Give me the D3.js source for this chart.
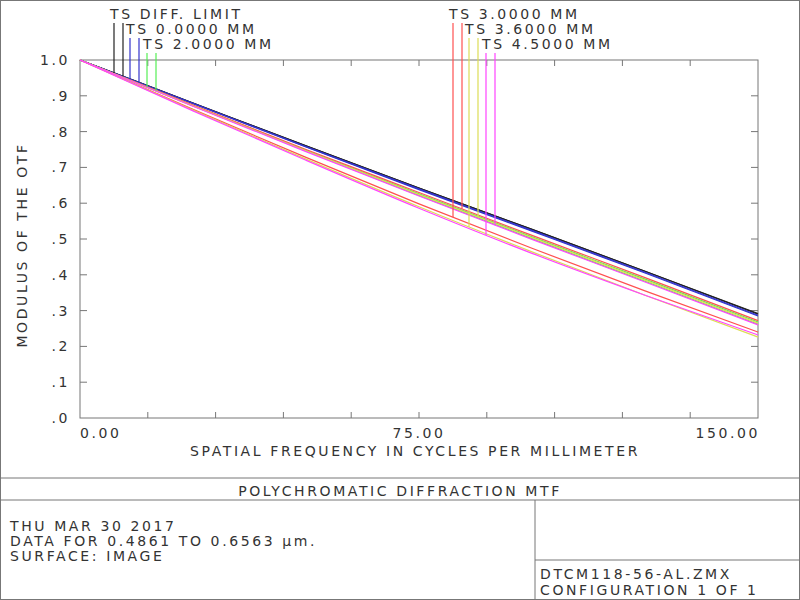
<!DOCTYPE html><html><head><meta charset="utf-8"><script src="https://cdn.jsdelivr.net/npm/d3@7"></script>
<style>body{margin:0;background:#fff}text{font-family:"DejaVu Sans",sans-serif;fill:#333;letter-spacing:2.6px}</style></head><body>
<svg id="c" width="800" height="600"></svg>
<script>
const freqs=[0,25,50,75,100,125,150];
const diffT=[1,0.88,0.76,0.642,0.527,0.41,0.29];
const diffS=[1,0.88,0.76,0.642,0.527,0.41,0.292];
const f0T=[1,0.878,0.757,0.638,0.522,0.405,0.285];
const f0S=[1,0.879,0.758,0.64,0.524,0.407,0.287];
const f2T=[1,0.873,0.748,0.626,0.506,0.388,0.268];
const f2S=[1,0.872,0.746,0.622,0.501,0.382,0.262];
const f3T=[1,0.862,0.728,0.598,0.474,0.355,0.24];
const f3S=[1,0.874,0.75,0.63,0.51,0.392,0.272];
const f36T=[1,0.86,0.723,0.59,0.464,0.343,0.226];
const f36S=[1,0.872,0.746,0.624,0.504,0.385,0.265];
const f45T=[1,0.858,0.72,0.586,0.46,0.343,0.232];
const f45S=[1,0.871,0.744,0.62,0.499,0.38,0.26];
const legendLabels=["TS DIFF. LIMIT","TS 0.0000 MM","TS 2.0000 MM","TS 3.0000 MM","TS 3.6000 MM","TS 4.5000 MM"];
const yTickLabels=["1.0",".9",".8",".7",".6",".5",".4",".3",".2",".1",".0"];
const xTickLabels=["0.00","75.00","150.00"];
const colors=["#222222","#3333cc","#55ee55","#ff5050","#dddd55","#ff44ff"];
const series=[[diffT,diffS],[f0T,f0S],[f2T,f2S],[f3T,f3S],[f36T,f36S],[f45T,f45S]];

const svg=d3.select("#c");
const L=80,R=758,T=60,B=418;
const x=d3.scaleLinear().domain([0,150]).range([L,R]);
const y=d3.scaleLinear().domain([0,1]).range([B,T]);
const g="#777";
svg.append("rect").attr("x",0.5).attr("y",0.5).attr("width",799).attr("height",599).attr("fill","none").attr("stroke",g);
svg.append("rect").attr("x",L).attr("y",T).attr("width",R-L).attr("height",B-T).attr("fill","none").attr("stroke",g);
[[0,478,800,478],[0,500,800,500],[535,500,535,600],[535,560,800,560]].forEach(d=>svg.append("line").attr("x1",d[0]).attr("y1",d[1]).attr("x2",d[2]).attr("y2",d[3]).attr("stroke",g));
const xt=d3.range(1,10).map(i=>i*15);
xt.forEach(v=>{svg.append("line").attr("x1",x(v)).attr("x2",x(v)).attr("y1",T).attr("y2",T+6).attr("stroke",g);
 svg.append("line").attr("x1",x(v)).attr("x2",x(v)).attr("y1",B).attr("y2",B-6).attr("stroke",g);});
d3.range(1,10).map(i=>i/10).forEach(v=>{svg.append("line").attr("x1",L).attr("x2",L+7).attr("y1",y(v)).attr("y2",y(v)).attr("stroke",g);
 svg.append("line").attr("x1",R).attr("x2",R-7).attr("y1",y(v)).attr("y2",y(v)).attr("stroke",g);});
yTickLabels.forEach((t,i)=>svg.append("text").attr("x",70).attr("y",y(1-i/10)+5).attr("text-anchor","end").attr("font-size",14).text(t));
const xa=["start","middle","end"];
xTickLabels.forEach((t,i)=>svg.append("text").attr("x",x(i*75)+(i==2?2:0)).attr("y",438).attr("text-anchor",xa[i]).attr("font-size",14).text(t));
svg.append("text").attr("x",415).attr("y",456).attr("text-anchor","middle").attr("font-size",14).text("SPATIAL FREQUENCY IN CYCLES PER MILLIMETER");
svg.append("text").attr("transform","translate(27,245) rotate(-90)").attr("text-anchor","middle").attr("font-size",14).text("MODULUS OF THE OTF");
svg.append("text").attr("x",400).attr("y",496).attr("text-anchor","middle").attr("font-size",14).text("POLYCHROMATIC DIFFRACTION MTF");
["THU MAR 30 2017","DATA FOR 0.4861 TO 0.6563 µm.","SURFACE: IMAGE"].forEach((t,i)=>svg.append("text").attr("x",10).attr("y",531+i*15).attr("font-size",14).text(t));
["DTCM118-56-AL.ZMX","CONFIGURATION 1 OF 1"].forEach((t,i)=>svg.append("text").attr("x",540).attr("y",579+i*16).attr("font-size",14).text(t));
const line=d3.line().x((d,i)=>x(freqs[i])).y(d=>y(d)).curve(d3.curveMonotoneX);
series.forEach((s,k)=>s.forEach(arr=>svg.append("path").attr("d",line(arr)).attr("fill","none").attr("stroke",colors[k]).attr("stroke-width",1.2)));
const legX=[110,126,143,449,465,482], legY=[19,34,49,19,34,49];
const interp=(arr,f)=>{const i=Math.min(5,Math.floor(f/25));const t=(f-freqs[i])/25;return arr[i]+(arr[i+1]-arr[i])*t;};
series.forEach((s,k)=>{
 svg.append("text").attr("x",legX[k]).attr("y",legY[k]).attr("font-size",14).text(legendLabels[k]);
 [0,1].forEach(j=>{const px=legX[k]+4+j*9;const f=x.invert(px);
  svg.append("line").attr("x1",px).attr("x2",px).attr("y1",legY[k]+4).attr("y2",y(interp(s[j],f))).attr("stroke",colors[k]).attr("stroke-width",1.2);});
});
</script></body></html>
